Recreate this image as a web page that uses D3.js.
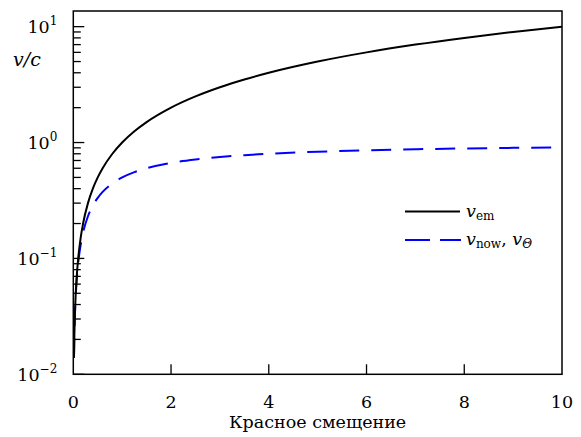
<!DOCTYPE html>
<html>
<head>
<meta charset="utf-8">
<script src="https://cdn.jsdelivr.net/npm/d3@7"></script>
<style>
body { margin: 0; background: #fff; }
</style>
</head>
<body>
<svg id="chart" width="581" height="437"></svg>
<script>
// Data
const redshift = [0.014, 0.02, 0.03, 0.05, 0.07, 0.1, 0.15, 0.2, 0.3, 0.4, 0.5, 0.6, 0.8, 1, 1.25, 1.5, 2, 2.5, 3, 3.5, 4, 5, 6, 7, 8, 9, 10];
const vEm  = [0.014, 0.02, 0.03, 0.05, 0.07, 0.1, 0.15, 0.2, 0.3, 0.4, 0.5, 0.6, 0.8, 1, 1.25, 1.5, 2, 2.5, 3, 3.5, 4, 5, 6, 7, 8, 9, 10];
const vNow = [0.0138, 0.0196, 0.0291, 0.0476, 0.0654, 0.0909, 0.130, 0.167, 0.231, 0.286, 0.333, 0.375, 0.444, 0.5, 0.556, 0.6, 0.667, 0.714, 0.75, 0.778, 0.8, 0.833, 0.857, 0.875, 0.889, 0.9, 0.909];
const xTicks = [0, 2, 4, 6, 8, 10];
const yMajor = [0.01, 0.1, 1, 10];
const yExponents = ["−2", "−1", "0", "1"];
const xLabel = "Красное смещение";

const FONT = "DejaVu Serif";
const FS = 17.5, FSS = 12;
const svg = d3.select("#chart").style("font-family", FONT);
const L = 73.3, R = 562, T = 11, B = 374.3;
const x = d3.scaleLinear().domain([0, 10]).range([L, R]);
const y = d3.scaleLog().domain([0.01, 13.65]).range([B, T]);

// minor ticks
const minor = [];
[0.01, 0.1, 1].forEach(d => { for (let k = 2; k <= 9; k++) minor.push(d * k); });

const g = svg.append("g");
g.selectAll("line.minor").data(minor).enter().append("line")
  .attr("x1", L).attr("x2", L + 7.5)
  .attr("y1", d => y(d)).attr("y2", d => y(d))
  .attr("stroke", "#000").attr("stroke-width", 1.3);
g.selectAll("line.major").data(yMajor).enter().append("line")
  .attr("x1", L).attr("x2", L + 11)
  .attr("y1", d => y(d)).attr("y2", d => y(d))
  .attr("stroke", "#000").attr("stroke-width", 1.3);
g.selectAll("line.xt").data(xTicks.slice(1, -1)).enter().append("line")
  .attr("x1", d => x(d)).attr("x2", d => x(d))
  .attr("y1", B).attr("y2", B - 10)
  .attr("stroke", "#000").attr("stroke-width", 1.3);

// y tick labels
yMajor.forEach((d, i) => {
  const t = g.append("text").attr("x", L - 16).attr("y", y(d) + 6.5)
    .attr("text-anchor", "end").attr("font-size", FS).style("font-family", FONT);
  t.append("tspan").text("10");
  t.append("tspan").attr("dy", -8).attr("font-size", FSS).text(yExponents[i]);
});

// x tick labels
g.selectAll("text.xl").data(xTicks).enter().append("text")
  .attr("x", d => x(d)).attr("y", 408)
  .attr("text-anchor", "middle").attr("font-size", FS).style("font-family", FONT)
  .text(d => d);

g.append("text").attr("x", (L + R) / 2).attr("y", 428)
  .attr("text-anchor", "middle").attr("font-size", FS).style("font-family", FONT).text(xLabel);

// y axis label v/c
g.append("text").attr("x", 13).attr("y", 66).attr("font-size", 19).style("font-family", FONT)
  .attr("font-style", "italic").text("v/c");

// curves
svg.append("clipPath").attr("id", "clip").append("rect")
  .attr("x", L).attr("y", T).attr("width", R - L).attr("height", B - T);
const line = d3.line().x(d => x(d[0])).y(d => y(d[1])).curve(d3.curveMonotoneX);
const plot = svg.append("g").attr("clip-path", "url(#clip)");
plot.append("path").datum(redshift.map((z, i) => [z, vNow[i]]))
  .attr("d", line).attr("fill", "none").attr("stroke", "#0000ff")
  .attr("stroke-width", 2).attr("stroke-dasharray", "20,12");
plot.append("path").datum(redshift.map((z, i) => [z, vEm[i]]))
  .attr("d", line).attr("fill", "none").attr("stroke", "#000")
  .attr("stroke-width", 2);

// frame
svg.append("rect").attr("x", L).attr("y", T).attr("width", R - L).attr("height", B - T)
  .attr("fill", "none").attr("stroke", "#000").attr("stroke-width", 1.5);

// legend
const lg = svg.append("g");
lg.append("line").attr("x1", 405).attr("x2", 460).attr("y1", 211.5).attr("y2", 211.5)
  .attr("stroke", "#000").attr("stroke-width", 2);
lg.append("line").attr("x1", 405).attr("x2", 461).attr("y1", 240).attr("y2", 240)
  .attr("stroke", "#0000ff").attr("stroke-width", 2).attr("stroke-dasharray", "25,10");
const t1 = lg.append("text").attr("x", 466).attr("y", 216.5).attr("font-size", FS).style("font-family", FONT);
t1.append("tspan").attr("font-style", "italic").text("v");
t1.append("tspan").attr("font-size", FSS).attr("dy", 3).text("em");
const t2 = lg.append("text").attr("x", 466).attr("y", 245).attr("font-size", FS).style("font-family", FONT);
t2.append("tspan").attr("font-style", "italic").text("v");
t2.append("tspan").attr("font-size", FSS).attr("dy", 3).text("now");
t2.append("tspan").attr("dy", -3).text(", ");
t2.append("tspan").attr("font-style", "italic").text("v");
t2.append("tspan").attr("font-size", FSS).attr("dy", 3).attr("font-style", "italic").text("Θ");
</script>
</body>
</html>
